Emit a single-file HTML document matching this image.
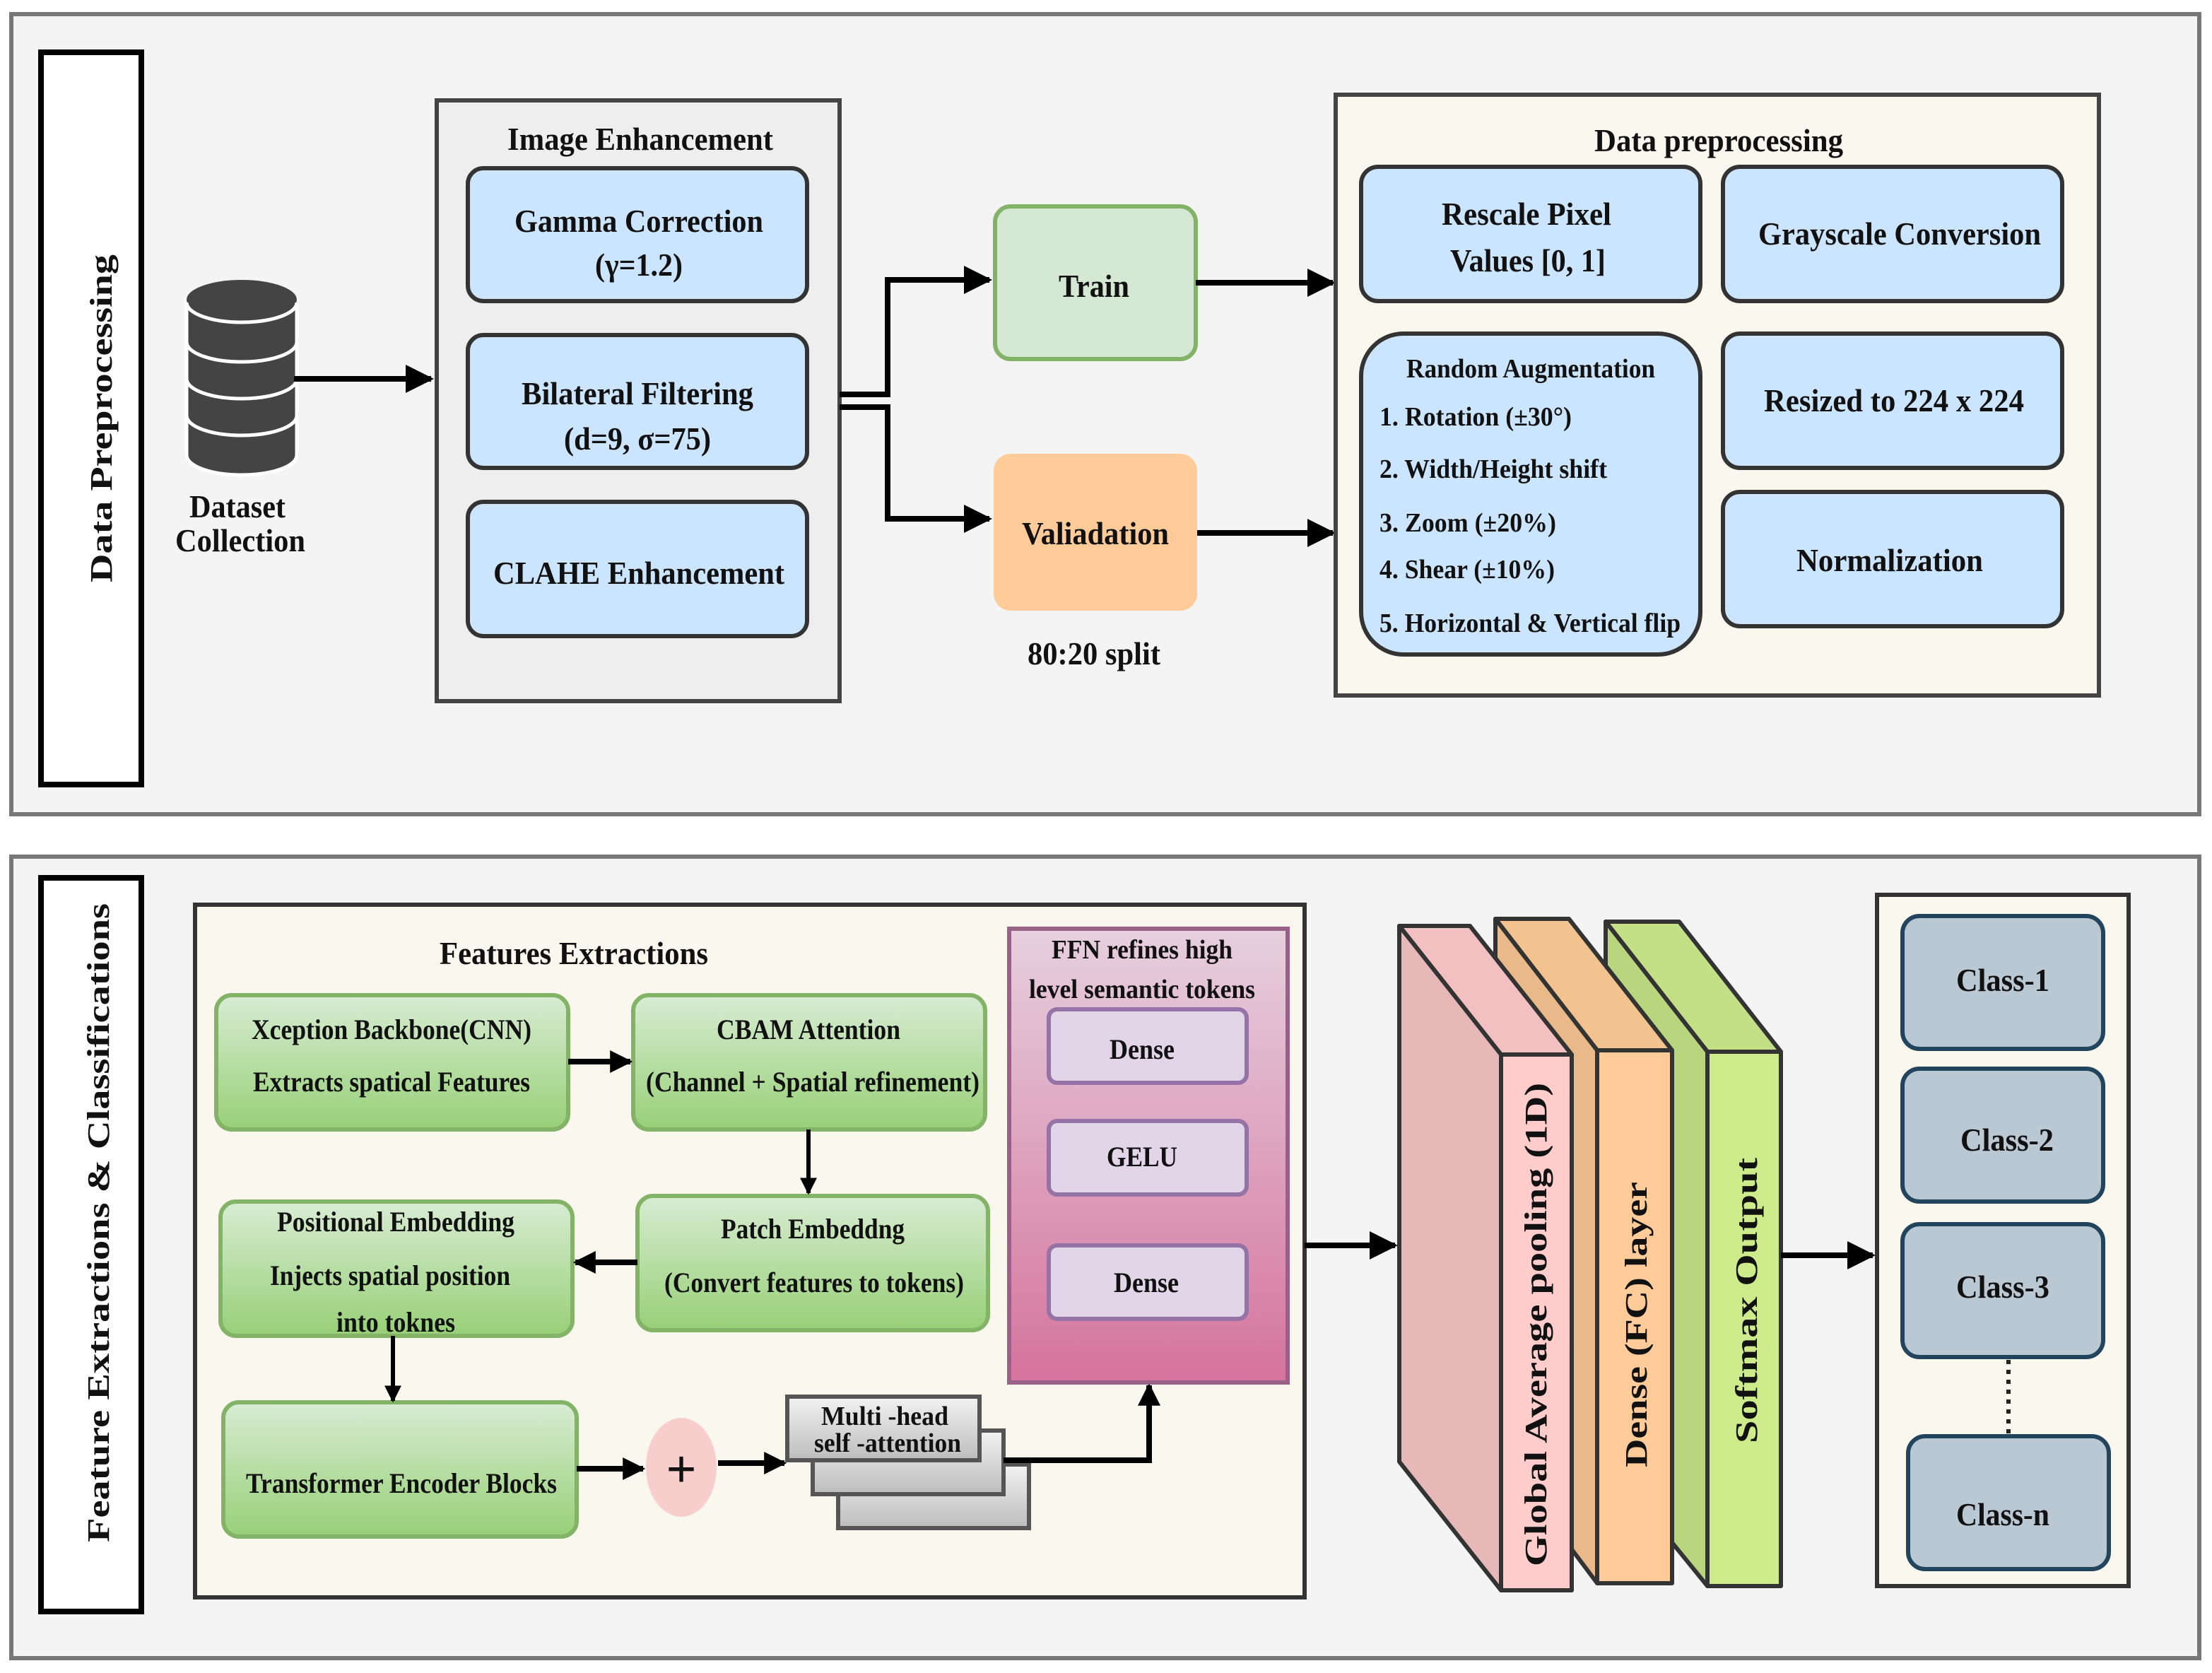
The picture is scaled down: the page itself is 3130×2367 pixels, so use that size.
<!DOCTYPE html>
<html><head><meta charset="utf-8"><style>
html,body{margin:0;padding:0;background:#fff;}
svg{display:block;}
text{font-family:"Liberation Serif",serif;font-weight:bold;fill:#111;}
</style></head><body>
<svg width="3130" height="2367" viewBox="0 0 1565 1183.5" xmlns="http://www.w3.org/2000/svg">
<defs>
<marker id="ah" viewBox="0 0 10 10" refX="9" refY="5" markerWidth="5" markerHeight="5" orient="auto" markerUnits="strokeWidth"><path d="M0,0 L10,5 L0,10 z" fill="#000"/></marker>
<marker id="ah2" viewBox="0 0 10 10" refX="9" refY="5" markerWidth="4" markerHeight="5" orient="auto" markerUnits="strokeWidth"><path d="M0,0 L10,5 L0,10 z" fill="#000"/></marker>
<linearGradient id="gg" x1="0" y1="0" x2="0" y2="1"><stop offset="0" stop-color="#d8ecd3"/><stop offset="1" stop-color="#97d077"/></linearGradient>
<linearGradient id="pg" x1="0" y1="0" x2="0" y2="1"><stop offset="0" stop-color="#e6d0de"/><stop offset="1" stop-color="#d5739d"/></linearGradient>
<linearGradient id="gr" x1="0" y1="0" x2="0" y2="1"><stop offset="0" stop-color="#f2f2f2"/><stop offset="1" stop-color="#bdbdbd"/></linearGradient>
</defs>

<!-- TOP PANEL -->
<rect x="8" y="10" width="1548" height="566" fill="#f4f4f4" stroke="#777" stroke-width="3"/>
<rect x="29" y="37" width="71" height="518" fill="#fff" stroke="#000" stroke-width="4"/>
<text transform="translate(79,296) rotate(-90)" text-anchor="middle" font-size="22" textLength="232" lengthAdjust="spacingAndGlyphs">Data Preprocessing</text>

<!-- database -->
<g fill="#444" stroke="#fff" stroke-width="2.5">
<path d="M132,212 L132,322 A39,14 0 0 0 210,322 L210,212 Z"/>
<path d="M132,294 A39,14 0 0 0 210,294" fill="none"/>
<path d="M132,268 A39,14 0 0 0 210,268" fill="none"/>
<path d="M132,242 A39,14 0 0 0 210,242" fill="none"/>
<ellipse cx="171" cy="212" rx="39" ry="14" stroke="none"/>
<path d="M132,214 A39,14 0 0 0 210,214" fill="none"/>
</g>
<text x="168" y="366" text-anchor="middle" font-size="23" textLength="68" lengthAdjust="spacingAndGlyphs">Dataset</text>
<text x="170" y="390" text-anchor="middle" font-size="23" textLength="92" lengthAdjust="spacingAndGlyphs">Collection</text>
<line x1="208" y1="268" x2="305" y2="268" stroke="#000" stroke-width="4" marker-end="url(#ah)"/>

<!-- Image Enhancement -->
<rect x="309" y="71" width="285" height="425" fill="#eee" stroke="#444" stroke-width="3"/>
<text x="453" y="106" text-anchor="middle" font-size="23" textLength="188" lengthAdjust="spacingAndGlyphs">Image Enhancement</text>
<g fill="#cce5ff" stroke="#333" stroke-width="3">
<rect x="331" y="119" width="240" height="94" rx="11"/>
<rect x="331" y="237" width="240" height="94" rx="11"/>
<rect x="331" y="355" width="240" height="95" rx="11"/>
</g>
<text x="452" y="164" text-anchor="middle" font-size="23" textLength="176" lengthAdjust="spacingAndGlyphs">Gamma Correction</text>
<text x="452" y="195" text-anchor="middle" font-size="23" textLength="62" lengthAdjust="spacingAndGlyphs">(γ=1.2)</text>
<text x="451" y="286" text-anchor="middle" font-size="23" textLength="164" lengthAdjust="spacingAndGlyphs">Bilateral Filtering</text>
<text x="451" y="318" text-anchor="middle" font-size="23" textLength="104" lengthAdjust="spacingAndGlyphs">(d=9, σ=75)</text>
<text x="452" y="413" text-anchor="middle" font-size="23" textLength="206" lengthAdjust="spacingAndGlyphs">CLAHE Enhancement</text>

<!-- split connectors -->
<polyline points="594,279 628,279 628,198 700,198" fill="none" stroke="#000" stroke-width="4" marker-end="url(#ah)"/>
<polyline points="594,288 628,288 628,367 700,367" fill="none" stroke="#000" stroke-width="4" marker-end="url(#ah)"/>

<rect x="704" y="146" width="142" height="108" rx="11" fill="#d5e8d4" stroke="#82b366" stroke-width="3"/>
<text x="774" y="210" text-anchor="middle" font-size="23" textLength="50" lengthAdjust="spacingAndGlyphs">Train</text>
<rect x="703" y="321" width="144" height="111" rx="12" fill="#ffcc99"/>
<text x="775" y="385" text-anchor="middle" font-size="23" textLength="104" lengthAdjust="spacingAndGlyphs">Valiadation</text>
<text x="774" y="470" text-anchor="middle" font-size="23" textLength="94" lengthAdjust="spacingAndGlyphs">80:20 split</text>

<line x1="846" y1="200" x2="943" y2="200" stroke="#000" stroke-width="4" marker-end="url(#ah)"/>
<line x1="847" y1="377" x2="943" y2="377" stroke="#000" stroke-width="4" marker-end="url(#ah)"/>

<!-- Data preprocessing box -->
<rect x="945" y="67" width="540" height="425" fill="#f9f7ee" stroke="#444" stroke-width="3"/>
<text x="1216" y="107" text-anchor="middle" font-size="23" textLength="176" lengthAdjust="spacingAndGlyphs">Data preprocessing</text>
<g fill="#cce5ff" stroke="#333" stroke-width="3">
<rect x="963" y="118" width="240" height="95" rx="12"/>
<rect x="1219" y="118" width="240" height="95" rx="12"/>
<rect x="963" y="236" width="240" height="227" rx="30"/>
<rect x="1219" y="236" width="240" height="95" rx="12"/>
<rect x="1219" y="348" width="240" height="95" rx="12"/>
</g>
<text x="1080" y="159" text-anchor="middle" font-size="23" textLength="120" lengthAdjust="spacingAndGlyphs">Rescale Pixel</text>
<text x="1081" y="192" text-anchor="middle" font-size="23" textLength="110" lengthAdjust="spacingAndGlyphs">Values [0, 1]</text>
<text x="1344" y="173" text-anchor="middle" font-size="23" textLength="200" lengthAdjust="spacingAndGlyphs">Grayscale Conversion</text>
<text x="1083" y="267" text-anchor="middle" font-size="19" textLength="176" lengthAdjust="spacingAndGlyphs">Random Augmentation</text>
<text x="976" y="301" font-size="19" textLength="136" lengthAdjust="spacingAndGlyphs">1. Rotation (±30°)</text>
<text x="976" y="338" font-size="19" textLength="161" lengthAdjust="spacingAndGlyphs">2. Width/Height shift</text>
<text x="976" y="376" font-size="19" textLength="125" lengthAdjust="spacingAndGlyphs">3. Zoom (±20%)</text>
<text x="976" y="409" font-size="19" textLength="124" lengthAdjust="spacingAndGlyphs">4. Shear (±10%)</text>
<text x="976" y="447" font-size="19" textLength="213" lengthAdjust="spacingAndGlyphs">5. Horizontal &amp; Vertical flip</text>
<text x="1340" y="291" text-anchor="middle" font-size="23" textLength="184" lengthAdjust="spacingAndGlyphs">Resized to 224 x 224</text>
<text x="1337" y="404" text-anchor="middle" font-size="23" textLength="132" lengthAdjust="spacingAndGlyphs">Normalization</text>

<!-- BOTTOM PANEL -->
<rect x="8" y="606" width="1548" height="567" fill="#f4f4f4" stroke="#777" stroke-width="3"/>
<rect x="29" y="621" width="71" height="519" fill="#fff" stroke="#000" stroke-width="4"/>
<text transform="translate(77,865) rotate(-90)" text-anchor="middle" font-size="22" textLength="452" lengthAdjust="spacingAndGlyphs">Feature Extractions &amp; Classifications</text>

<rect x="138" y="640" width="785" height="490" fill="#f9f7ee" stroke="#333" stroke-width="3"/>
<text x="406" y="682" text-anchor="middle" font-size="23" textLength="190" lengthAdjust="spacingAndGlyphs">Features Extractions</text>

<g fill="url(#gg)" stroke="#82b366" stroke-width="3">
<rect x="153" y="704" width="249" height="95" rx="11"/>
<rect x="448" y="704" width="249" height="95" rx="11"/>
<rect x="156" y="850" width="249" height="95" rx="11"/>
<rect x="451" y="846" width="248" height="95" rx="11"/>
<rect x="158" y="992" width="250" height="95" rx="11"/>
</g>
<text x="277" y="735" text-anchor="middle" font-size="20" textLength="198" lengthAdjust="spacingAndGlyphs">Xception Backbone(CNN)</text>
<text x="277" y="772" text-anchor="middle" font-size="20" textLength="196" lengthAdjust="spacingAndGlyphs">Extracts spatical Features</text>
<text x="572" y="735" text-anchor="middle" font-size="20" textLength="130" lengthAdjust="spacingAndGlyphs">CBAM Attention</text>
<text x="575" y="772" text-anchor="middle" font-size="20" textLength="236" lengthAdjust="spacingAndGlyphs">(Channel + Spatial refinement)</text>
<text x="280" y="871" text-anchor="middle" font-size="20" textLength="168" lengthAdjust="spacingAndGlyphs">Positional Embedding</text>
<text x="276" y="909" text-anchor="middle" font-size="20" textLength="170" lengthAdjust="spacingAndGlyphs">Injects spatial position</text>
<text x="280" y="942" text-anchor="middle" font-size="20" textLength="84" lengthAdjust="spacingAndGlyphs">into toknes</text>
<text x="575" y="876" text-anchor="middle" font-size="20" textLength="130" lengthAdjust="spacingAndGlyphs">Patch Embeddng</text>
<text x="576" y="914" text-anchor="middle" font-size="20" textLength="212" lengthAdjust="spacingAndGlyphs">(Convert features to tokens)</text>
<text x="284" y="1056" text-anchor="middle" font-size="20" textLength="220" lengthAdjust="spacingAndGlyphs">Transformer Encoder Blocks</text>

<line x1="402" y1="751" x2="446" y2="751" stroke="#000" stroke-width="4" marker-end="url(#ah2)"/>
<line x1="572" y1="799" x2="572" y2="844" stroke="#000" stroke-width="3" marker-end="url(#ah2)"/>
<line x1="451" y1="893" x2="407" y2="893" stroke="#000" stroke-width="4" marker-end="url(#ah2)"/>
<line x1="278" y1="945" x2="278" y2="991" stroke="#000" stroke-width="3" marker-end="url(#ah2)"/>
<line x1="408" y1="1039" x2="455" y2="1039" stroke="#000" stroke-width="4" marker-end="url(#ah2)"/>
<ellipse cx="482" cy="1038" rx="25" ry="35" fill="#f8cecc"/>
<text x="482" y="1052" text-anchor="middle" font-size="38" font-weight="normal">+</text>
<line x1="508" y1="1035" x2="555" y2="1035" stroke="#000" stroke-width="4" marker-end="url(#ah2)"/>

<g fill="url(#gr)" stroke="#555" stroke-width="3">
<rect x="593" y="1036" width="135" height="45"/>
<rect x="575" y="1012" width="135" height="45"/>
<rect x="557" y="988" width="136" height="45"/>
</g>
<text x="626" y="1008" text-anchor="middle" font-size="19" textLength="90" lengthAdjust="spacingAndGlyphs">Multi -head</text>
<text x="628" y="1027" text-anchor="middle" font-size="19" textLength="104" lengthAdjust="spacingAndGlyphs">self -attention</text>
<polyline points="710,1033 813,1033 813,980" fill="none" stroke="#000" stroke-width="4" marker-end="url(#ah2)"/>

<rect x="714" y="657" width="197" height="321" fill="url(#pg)" stroke="#996185" stroke-width="3"/>
<text x="808" y="678" text-anchor="middle" font-size="19" textLength="128" lengthAdjust="spacingAndGlyphs">FFN refines high</text>
<text x="808" y="706" text-anchor="middle" font-size="19" textLength="160" lengthAdjust="spacingAndGlyphs">level semantic tokens</text>
<g fill="#e1d5e7" stroke="#9673a6" stroke-width="3">
<rect x="742" y="714" width="140" height="52" rx="6"/>
<rect x="742" y="793" width="140" height="52" rx="6"/>
<rect x="742" y="881" width="140" height="52" rx="6"/>
</g>
<text x="808" y="749" text-anchor="middle" font-size="20" textLength="46" lengthAdjust="spacingAndGlyphs">Dense</text>
<text x="808" y="825" text-anchor="middle" font-size="20" textLength="50" lengthAdjust="spacingAndGlyphs">GELU</text>
<text x="811" y="914" text-anchor="middle" font-size="20" textLength="46" lengthAdjust="spacingAndGlyphs">Dense</text>

<line x1="923" y1="881" x2="987" y2="881" stroke="#000" stroke-width="4" marker-end="url(#ah)"/>

<!-- 3D blocks -->
<g stroke="#333" stroke-width="3" stroke-linejoin="round">
<polygon points="1136,652 1188,652 1260,744 1208,744" fill="#c3e086"/>
<polygon points="1136,652 1208,744 1208,1122 1182,1090 1136,1030" fill="#b9d67f"/>
<rect x="1208" y="744" width="52" height="378" fill="#cdeb8b"/>
<polygon points="1058,650 1110,650 1183,743 1130,743" fill="#f2c28f"/>
<polygon points="1058,650 1130,743 1130,1120 1100,1080 1058,1030" fill="#e9b98a"/>
<rect x="1130" y="743" width="53" height="377" fill="#ffcc99"/>
<polygon points="990,655 1040,655 1112,746 1062,746" fill="#f2c0c0"/>
<polygon points="990,655 1062,746 1062,1125 990,1034" fill="#e6b8b8"/>
<rect x="1062" y="746" width="50" height="379" fill="#ffcccc"/>
</g>
<text transform="translate(1094,937) rotate(-90)" text-anchor="middle" font-size="22" textLength="342" lengthAdjust="spacingAndGlyphs">Global Average pooling (1D)</text>
<text transform="translate(1165,937) rotate(-90)" text-anchor="middle" font-size="22" textLength="202" lengthAdjust="spacingAndGlyphs">Dense (FC) layer</text>
<text transform="translate(1243,920) rotate(-90)" text-anchor="middle" font-size="22" textLength="202" lengthAdjust="spacingAndGlyphs">Softmax  Output</text>

<line x1="1260" y1="888" x2="1325" y2="888" stroke="#000" stroke-width="4" marker-end="url(#ah)"/>

<rect x="1328" y="633" width="178" height="489" fill="#f9f7ee" stroke="#333" stroke-width="3"/>
<g fill="#bac8d3" stroke="#23445d" stroke-width="3">
<rect x="1346" y="648" width="142" height="94" rx="12"/>
<rect x="1346" y="756" width="142" height="94" rx="12"/>
<rect x="1346" y="866" width="142" height="94" rx="12"/>
<rect x="1350" y="1016" width="142" height="94" rx="12"/>
</g>
<line x1="1421" y1="962" x2="1421" y2="1015" stroke="#222" stroke-width="3" stroke-dasharray="3,4"/>
<text x="1417" y="701" text-anchor="middle" font-size="23" textLength="66" lengthAdjust="spacingAndGlyphs">Class-1</text>
<text x="1420" y="814" text-anchor="middle" font-size="23" textLength="66" lengthAdjust="spacingAndGlyphs">Class-2</text>
<text x="1417" y="918" text-anchor="middle" font-size="23" textLength="66" lengthAdjust="spacingAndGlyphs">Class-3</text>
<text x="1417" y="1079" text-anchor="middle" font-size="23" textLength="66" lengthAdjust="spacingAndGlyphs">Class-n</text>
</svg>
</body></html>
